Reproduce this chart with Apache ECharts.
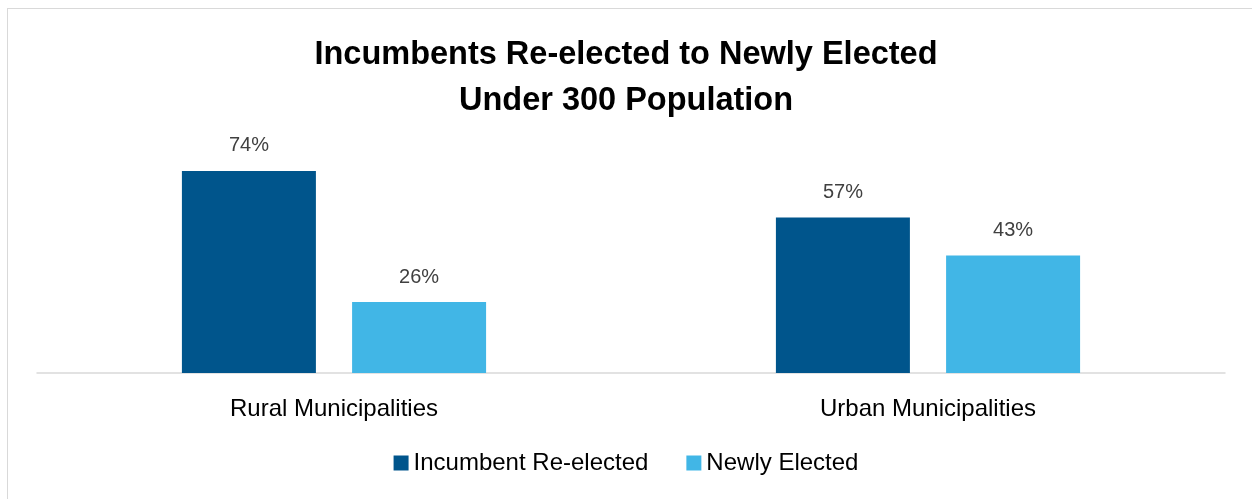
<!DOCTYPE html>
<html><head><meta charset="utf-8">
<script src="https://cdn.jsdelivr.net/npm/echarts@6/dist/echarts.min.js"></script>
<style>
html,body{margin:0;padding:0;background:#fff;overflow:hidden}
#frame{position:absolute;left:7px;top:8px;width:1260px;height:510px;border:1.5px solid #d9d9d9;box-sizing:border-box}
#c{position:absolute;left:0;top:0;width:1252px;height:499px}
</style></head>
<body><div id="frame"></div><div id="c"></div>
<script>
const categories = ['Rural Municipalities', 'Urban Municipalities'];
const incumbent = [74, 57];
const newly = [26, 43];
const seriesNames = ['Incumbent Re-elected', 'Newly Elected'];
const titleLines = ['Incumbents Re-elected to Newly Elected', 'Under 300 Population'];

const font = 'Liberation Sans';
const chart = echarts.init(document.getElementById('c'));
const lbl = {show:true, position:'top', distance:15, formatter:'{c}%', color:'#404040', fontSize:20, fontFamily:font};
chart.setOption({
  animation:false,
  title:{text:titleLines.join('\n'), left:'center', top:27, itemGap:0,
    textStyle:{fontFamily:font, fontWeight:'bold', fontSize:32.5, lineHeight:46, color:'#000'}},
  legend:{bottom:19, left:'center', itemWidth:15, itemHeight:15, itemGap:38, icon:'rect',
    textStyle:{fontFamily:font, fontSize:24, color:'#000'}, data:seriesNames},
  grid:{left:37, right:27, top:154.6, bottom:126},
  xAxis:{type:'category', data:categories,
    axisLine:{lineStyle:{color:'#d9d9d9', width:1.5}}, axisTick:{show:false},
    axisLabel:{fontFamily:font, fontSize:24, color:'#000', margin:24}},
  yAxis:{type:'value', min:0, max:80, show:false, splitLine:{show:false}},
  series:[
    {name:seriesNames[0], type:'bar', data:incumbent, barWidth:134, barGap:'27%', itemStyle:{color:'#00558C'}, label:lbl},
    {name:seriesNames[1], type:'bar', data:newly, barWidth:134, itemStyle:{color:'#41B6E6'}, label:lbl}
  ]
});
</script></body></html>
